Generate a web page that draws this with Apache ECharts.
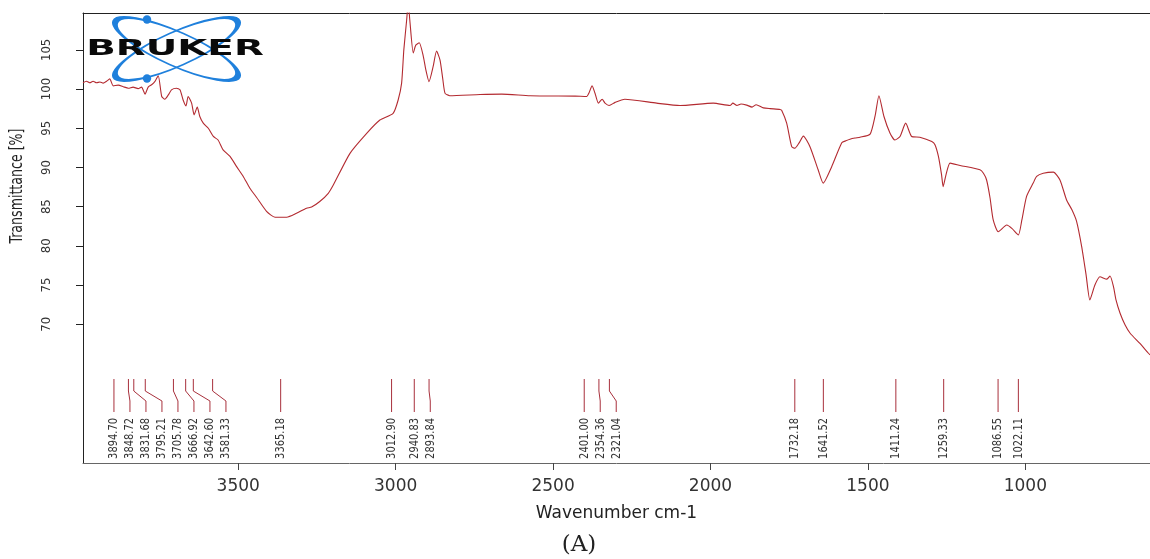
<!DOCTYPE html>
<html><head><meta charset="utf-8">
<script src="https://cdn.jsdelivr.net/npm/echarts@6/dist/echarts.min.js"></script>
<style>html,body{margin:0;padding:0;background:#fff}#c{width:1150px;height:559px}</style>
</head><body><div id="c"></div>
<script>
// Spectrum
const wavenumber = [
  3993, 3982, 3971, 3961, 3950, 3939, 3929, 3918, 3908, 3897,
  3881, 3865, 3849, 3834, 3818, 3807, 3796, 3786, 3775, 3765,
  3754, 3743, 3733, 3722, 3712, 3696, 3685, 3675, 3666, 3659,
  3648, 3640, 3630, 3622, 3611, 3595, 3579, 3564, 3548, 3526,
  3505, 3484, 3463, 3442, 3410, 3383, 3346, 3315, 3283, 3267,
  3241, 3214, 3198, 3145, 3092, 3050, 3008, 2992, 2981, 2974,
  2965, 2960, 2955, 2944, 2936, 2925, 2912, 2904, 2894, 2881,
  2870, 2859, 2850, 2843, 2828, 2732, 2663, 2573, 2430, 2393,
  2386, 2376, 2367, 2356, 2344, 2335, 2322, 2303, 2272, 2171,
  2097, 1991, 1938, 1929, 1916, 1903, 1885, 1868, 1855, 1832,
  1811, 1779, 1774, 1758, 1742, 1732, 1719, 1705, 1684, 1658,
  1642, 1615, 1583, 1570, 1557, 1541, 1525, 1493, 1477, 1465,
  1449, 1430, 1414, 1398, 1380, 1361, 1335, 1297, 1287, 1276,
  1266, 1261, 1252, 1239, 1207, 1144, 1133, 1123, 1112, 1102,
  1086, 1059, 1042, 1022, 1011, 996, 975, 964, 943, 911,
  890, 869, 852, 837, 821, 807, 795, 779, 763, 741,
  731, 720, 712, 699, 683, 667, 636, 609, 604
];
const transmittance = [
  100.8, 101.0, 100.8, 101.0, 100.8, 100.9, 100.75, 101.0, 101.3, 100.4,
  100.5, 100.3, 100.1, 100.25, 100.05, 100.25, 99.35, 100.25, 100.55, 100.95,
  101.7, 99.05, 98.7, 99.25, 99.9, 100.1, 99.9, 98.6, 97.85, 99.05,
  98.2, 96.7, 97.7, 96.5, 95.65, 95.0, 93.95, 93.5, 92.25, 91.4,
  90.1, 88.85, 87.35, 86.2, 84.4, 83.65, 83.65, 84.15, 84.8, 84.95,
  85.65, 86.7, 87.75, 91.8, 94.35, 96.05, 96.9, 98.6, 100.75, 105.0,
  108.8, 111.0, 108.8, 104.6, 105.6, 105.9, 104.15, 102.45, 100.95, 102.85,
  104.85, 103.7, 101.2, 99.45, 99.15, 99.3, 99.35, 99.15, 99.1, 99.05,
  99.5, 100.4, 99.5, 98.2, 98.7, 98.2, 97.9, 98.3, 98.7, 98.2,
  97.9, 98.2, 97.9, 98.2, 97.9, 98.1, 97.95, 97.7, 98.0, 97.6,
  97.5, 97.4, 97.3, 95.65, 92.65, 92.45, 93.1, 94.0, 92.65, 89.7,
  88.0, 90.1, 93.15, 93.4, 93.6, 93.75, 93.85, 94.25, 96.6, 99.15,
  96.5, 94.4, 93.5, 93.95, 95.65, 93.95, 93.85, 93.3, 92.9, 91.4,
  89.05, 87.55, 89.05, 90.55, 90.25, 89.7, 89.25, 88.4, 86.1, 83.3,
  81.8, 82.65, 82.2, 81.4, 83.3, 86.3, 88.0, 88.85, 89.25, 89.4,
  88.4, 85.85, 84.6, 83.1, 79.9, 76.3, 73.1, 75.0, 76.05, 75.75,
  76.15, 74.8, 73.1, 71.4, 69.9, 68.85, 67.55, 66.3, 66.1
];
const peakWavenumbers = [3894.70, 3848.72, 3831.68, 3795.21, 3705.78, 3666.92, 3642.60, 3581.33,
  3365.18, 3012.90, 2940.83, 2893.84, 2401.00, 2354.36, 2321.04, 1732.18, 1641.52, 1411.24,
  1259.33, 1086.55, 1022.11];
const peakLabels = peakWavenumbers.map(v => v.toFixed(2));
const yTicks = [70, 75, 80, 85, 90, 95, 100, 105];
const xTicks = [3500, 3000, 2500, 2000, 1500, 1000];

const RED = '#b32a30';
const NARROW = '"DejaVu Sans Condensed", "Liberation Sans Narrow", sans-serif';
const LABEL_GAP = 16;

const chart = echarts.init(document.getElementById('c'), null, {renderer: 'canvas'});
const option = {
  animation: false,
  backgroundColor: '#fff',
  grid: {left: 83, right: 0, top: 13, bottom: 96, containLabel: false},
  xAxis: [{
    type: 'value', inverse: true, min: 604, max: 3993, position: 'bottom',
    axisLine: {show: true, onZero: false, lineStyle: {color: '#666', width: 1}},
    axisTick: {show: true, length: 7, customValues: xTicks, lineStyle: {color: '#444'}},
    axisLabel: {customValues: xTicks, margin: 15, fontFamily: 'DejaVu Sans', fontSize: 17, color: '#333',
                formatter: v => String(v)},
    splitLine: {show: false},
    name: 'Wavenumber cm-1', nameLocation: 'middle', nameGap: 42,
    nameTextStyle: {fontFamily: 'DejaVu Sans', fontSize: 17, color: '#222'}
  }, {
    type: 'value', inverse: true, min: 604, max: 3993, position: 'top',
    axisLine: {show: true, onZero: false, lineStyle: {color: '#222', width: 1}},
    axisTick: {show: false}, axisLabel: {show: false}, splitLine: {show: false}
  }],
  yAxis: {
    type: 'value', min: 52.3, max: 109.7,
    axisLine: {show: true, onZero: false, lineStyle: {color: '#222', width: 1}},
    axisTick: {show: true, length: 7, customValues: yTicks, lineStyle: {color: '#222'}},
    axisLabel: {customValues: yTicks, rotate: 90, margin: 30, fontFamily: NARROW, fontSize: 13, color: '#333',
                formatter: v => String(v)},
    splitLine: {show: false}
  },
  graphic: [
    {type: 'text', x: 18, y: 186, rotation: Math.PI / 2, scaleY: 1.2,
     style: {text: 'Transmittance [%]', font: '14px ' + NARROW, fill: '#222',
             align: 'center', verticalAlign: 'middle', textAlign: 'center', textVerticalAlign: 'middle'}},
    {type: 'text', x: 579, y: 545,
     style: {text: '(A)', font: '23px "DejaVu Serif", "Liberation Serif", serif', fill: '#222',
             align: 'center', verticalAlign: 'middle', textAlign: 'center', textVerticalAlign: 'middle'}},
    // BRUKER logo
    {type: 'group', x: 176.5, y: 49, z: 10, children: [
      {type: 'circle', shape: {cx: 0, cy: 0, r: 17}, scaleX: 67 / 17, rotation: -0.42,
       style: {fill: 'none', stroke: '#1f80dc', lineWidth: 3.2, strokeNoScale: true}},
      {type: 'circle', shape: {cx: 0, cy: 0, r: 17}, scaleX: 67 / 17, rotation: 0.42,
       style: {fill: 'none', stroke: '#1f80dc', lineWidth: 3.2, strokeNoScale: true}},
      {type: 'circle', shape: {cx: -29.5, cy: -29.5, r: 4.2}, style: {fill: '#1f80dc'}},
      {type: 'circle', shape: {cx: -29.5, cy: 29.5, r: 4.2}, style: {fill: '#1f80dc'}},
      {type: 'text', x: -1.5, y: 0.5, scaleX: 1.85,
       style: {text: 'BRUKER', font: 'bold 21px "DejaVu Sans", sans-serif', fill: '#0a0a0a',
               align: 'center', verticalAlign: 'middle', textAlign: 'center', textVerticalAlign: 'middle'}}
    ]}
  ],
  series: [{
    type: 'line', xAxisIndex: 0, yAxisIndex: 0,
    data: wavenumber.map((w, i) => [w, transmittance[i]]),
    showSymbol: false, symbol: 'none', smooth: 0.2, clip: true,
    lineStyle: {color: RED, width: 1.1}, z: 3
  }, {
    type: 'custom', xAxisIndex: 0, yAxisIndex: 0, clip: false,
    data: peakWavenumbers.map(w => [w, 60]),
    encode: {x: 0, y: 1},
    renderItem: function (params, api) {
      const i = params.dataIndex;
      const cs = params.coordSys;
      const xs = peakWavenumbers.map(w => api.coord([w, 80])[0]);
      const lx = [];
      let prev = -Infinity;
      xs.forEach(x => { const v = Math.max(x, prev + LABEL_GAP); lx.push(v); prev = v; });
      const x0 = xs[i], x1 = lx[i];
      const bottom = cs.y + cs.height;
      const yTop = bottom - 84, yK1 = bottom - 72, yK2 = bottom - 62, yBot = bottom - 51, yText = bottom - 45;
      return {type: 'group', children: [
        {type: 'polyline', shape: {points: [[x0, yTop], [x0, yK1], [x1, yK2], [x1, yBot]]},
         style: {stroke: '#a8303c', lineWidth: 1, fill: null}},
        {type: 'text', x: x1, y: yText, rotation: Math.PI / 2, scaleY: 1.15,
         style: {text: peakLabels[i], font: '11px ' + NARROW, fill: '#333',
                 align: 'right', verticalAlign: 'middle', textAlign: 'right', textVerticalAlign: 'middle'}}
      ]};
    }
  }]
};
chart.setOption(option);
</script>
</body></html>
